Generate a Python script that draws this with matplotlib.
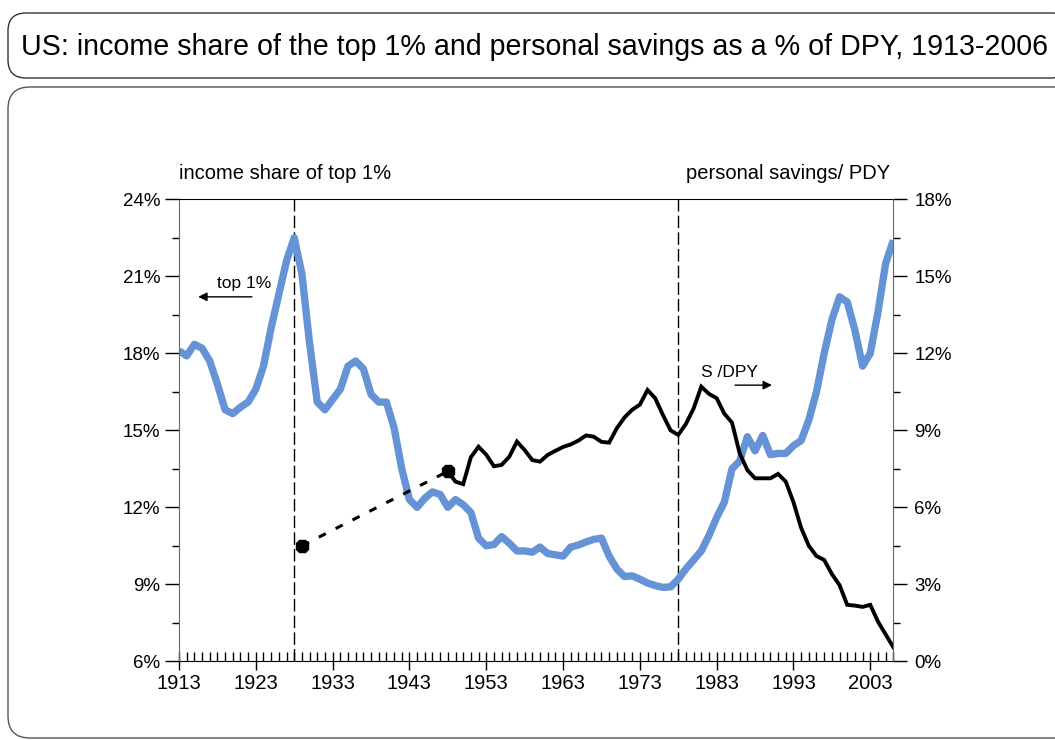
import matplotlib
matplotlib.use("Agg")
import matplotlib.pyplot as plt
from matplotlib.patches import FancyBboxPatch
from matplotlib.ticker import MultipleLocator, FuncFormatter

plt.rcParams['font.family'] = ['Liberation Sans', 'DejaVu Sans']

# income share of the top 1% (left axis, %)
years = list(range(1913, 2007))
top1 = [
    18.1, 17.9, 18.35, 18.2, 17.7, 16.8, 15.8, 15.65, 15.9, 16.1,    # 1913-1922
    16.6, 17.5, 19.0, 20.3, 21.6, 22.5, 21.1, 18.4, 16.1, 15.8,      # 1923-1932
    16.2, 16.6, 17.5, 17.7, 17.4, 16.4, 16.1, 16.1, 15.1, 13.5,      # 1933-1942
    12.3, 12.0, 12.35, 12.6, 12.5, 12.0, 12.3, 12.1, 11.8, 10.8,     # 1943-1952
    10.5, 10.55, 10.86, 10.6, 10.3, 10.3, 10.25, 10.45, 10.2, 10.15,  # 1953-1962
    10.1, 10.45, 10.53, 10.65, 10.75, 10.8, 10.1, 9.6, 9.3, 9.33,    # 1963-1972
    9.2, 9.05, 8.95, 8.88, 8.9, 9.2, 9.6, 9.95, 10.3, 10.9,          # 1973-1982
    11.6, 12.2, 13.5, 13.8, 14.75, 14.2, 14.8, 14.05, 14.1, 14.1,    # 1983-1992
    14.4, 14.6, 15.4, 16.5, 18.0, 19.3, 20.2, 20.0, 18.9, 17.5,      # 1993-2002
    18.0, 19.6, 21.5, 22.4,                                          # 2003-2006
]

# personal savings as % of DPY (right axis, %)
sav_years = list(range(1948, 2007))
savings = [
    7.4, 7.0, 6.9, 7.95, 8.36, 8.05, 7.6, 7.65, 7.97, 8.56,     # 1948-1957
    8.23, 7.84, 7.78, 8.04, 8.2, 8.35, 8.45, 8.6, 8.8, 8.75,    # 1958-1967
    8.55, 8.52, 9.08, 9.5, 9.8, 10.0, 10.57, 10.25, 9.6, 9.0,   # 1968-1977
    8.82, 9.25, 9.85, 10.7, 10.42, 10.25, 9.65, 9.3, 8.1, 7.45, # 1978-1987
    7.13, 7.13, 7.13, 7.3, 7.0, 6.2, 5.2, 4.5, 4.1, 3.95,       # 1988-1997
    3.4, 2.97, 2.2, 2.17, 2.12, 2.2, 1.55, 1.05, 0.55,          # 1998-2006
]

# isolated 1929 observation joined to 1948
gap_years = [1929, 1948]
gap_savings = [4.5, 7.4]

peak_years = [1928, 1978]

blue = '#6593d6'

fig = plt.figure(figsize=(10.55, 7.40), dpi=100)

# rounded frames, drawn in pixel units
bg = fig.add_axes([0, 0, 1, 1])
bg.set_xlim(0, 1055)
bg.set_ylim(740, 0)
bg.axis('off')
bg.add_patch(FancyBboxPatch((8, 13), 1062, 65, boxstyle='round,pad=0,rounding_size=18',
                            fc='none', ec='#333333', lw=1))
bg.add_patch(FancyBboxPatch((8, 87), 1072, 651, boxstyle='round,pad=0,rounding_size=22',
                            fc='none', ec='#555555', lw=1))
bg.text(21, 47, 'US: income share of the top 1% and personal savings as a % of DPY, 1913-2006',
        fontsize=20.6, ha='left', va='center')

ax = fig.add_axes([179 / 1055, 1 - 661.3 / 740, (893.3 - 179) / 1055, (661.3 - 199.3) / 740])
ax.set_xlim(1913, 2006)
ax.set_ylim(6, 24)
ax2 = ax.twinx()
ax2.set_ylim(0, 18)

for yr in peak_years:
    ax.axvline(yr, color='black', lw=1, dashes=(9, 3), zorder=1)

ax.plot(years, top1, color=blue, lw=5.3, solid_joinstyle='round', solid_capstyle='butt', zorder=2)

ax2.plot(sav_years, savings, color='black', lw=2.8, solid_joinstyle='miter', zorder=3)
ax2.plot(gap_years, gap_savings, color='black', lw=2.2, dashes=(2.6, 3.6), zorder=3)
ax2.plot(gap_years, gap_savings, ls='none', marker='8', ms=10, color='black', zorder=4)

# ticks
pct = FuncFormatter(lambda v, p: f'{v:.0f}%')
ax.set_yticks(range(6, 25, 3))
ax.yaxis.set_minor_locator(MultipleLocator(1.5))
ax.yaxis.set_major_formatter(pct)
ax.tick_params(axis='y', which='major', direction='out', length=10, width=1, labelsize=13.5, pad=3.5)
ax.tick_params(axis='y', which='minor', direction='out', length=5, width=1)

ax2.set_yticks(range(0, 19, 3))
ax2.yaxis.set_minor_locator(MultipleLocator(1.5))
ax2.yaxis.set_major_formatter(pct)
ax2.tick_params(axis='y', which='major', direction='out', length=10, width=1, labelsize=13.5, pad=5)
ax2.tick_params(axis='y', which='minor', direction='out', length=5, width=1)

ax.set_xticks(range(1913, 2007, 10))
ax.xaxis.set_minor_locator(MultipleLocator(1))
ax.tick_params(axis='x', which='major', direction='inout', length=13, width=1, labelsize=14.5, pad=3)
ax.tick_params(axis='x', which='minor', direction='in', length=6.5, width=1)

ax.spines['left'].set_color('#666666')
ax.spines['right'].set_visible(False)
for s in ['left', 'top', 'bottom']:
    ax2.spines[s].set_visible(False)
ax2.spines['right'].set_color('#666666')

# headers above the plot
ax.text(0, 1.043, 'income share of top 1%', transform=ax.transAxes,
        ha='left', va='baseline', fontsize=14.5)
ax.text(0.996, 1.043, 'personal savings/ PDY', transform=ax.transAxes,
        ha='right', va='baseline', fontsize=14.5)

# series labels with arrows
ax.annotate('', xy=(1915.5, 20.2), xytext=(1922.5, 20.2),
            arrowprops=dict(arrowstyle='-|>', color='black', lw=1, mutation_scale=13,
                            shrinkA=0, shrinkB=0))
ax.text(1918.0, 20.55, 'top 1%', fontsize=12.5, ha='left', va='baseline')

ax2.annotate('', xy=(1990.2, 10.76), xytext=(1985.4, 10.76),
             arrowprops=dict(arrowstyle='-|>', color='black', lw=1, mutation_scale=13,
                             shrinkA=0, shrinkB=0))
ax2.text(1980.9, 11.08, 'S /DPY', fontsize=12.5, ha='left', va='baseline')

fig.savefig('out.png', dpi=100)
